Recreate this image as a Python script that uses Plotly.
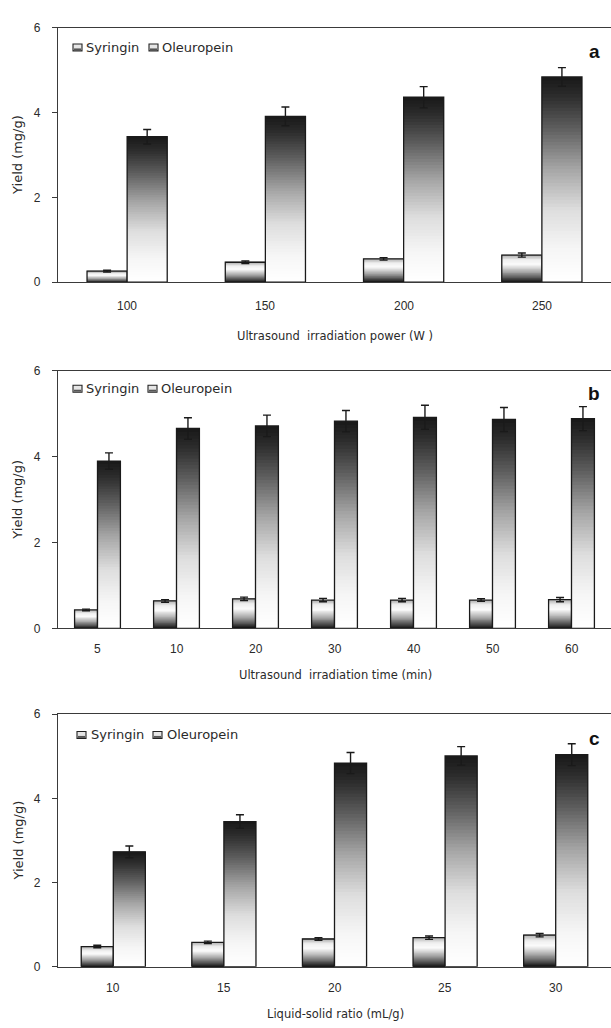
import plotly.graph_objects as go
from plotly.colors import sample_colorscale

# ---- data -------------------------------------------------------------
power_labels = ["100", "150", "200", "250"]
power_syringin = [0.26, 0.47, 0.55, 0.64]
power_syringin_err = [0.02, 0.03, 0.03, 0.05]
power_oleuropein = [3.43, 3.91, 4.36, 4.84]
power_oleuropein_err = [0.17, 0.22, 0.25, 0.22]

time_labels = ["5", "10", "20", "30", "40", "50", "60"]
time_syringin = [0.43, 0.64, 0.69, 0.66, 0.66, 0.66, 0.67]
time_syringin_err = [0.02, 0.03, 0.04, 0.04, 0.04, 0.03, 0.05]
time_oleuropein = [3.90, 4.66, 4.72, 4.83, 4.92, 4.87, 4.89]
time_oleuropein_err = [0.19, 0.25, 0.25, 0.25, 0.28, 0.28, 0.28]

ratio_labels = ["10", "15", "20", "25", "30"]
ratio_syringin = [0.48, 0.58, 0.66, 0.69, 0.75]
ratio_syringin_err = [0.03, 0.03, 0.03, 0.04, 0.04]
ratio_oleuropein = [2.73, 3.45, 4.84, 5.01, 5.04]
ratio_oleuropein_err = [0.14, 0.16, 0.25, 0.22, 0.26]

y_ticks = [0, 2, 4, 6]

# ---- figure geometry (pixels) ----------------------------------------
W, H = 611, 1028
AXIS_LEFT = 58
LINE = "#3a3a3a"
TEXT = "#2a2a2a"
FONT = "Liberation Sans, Arial, sans-serif"
WIDE_FONT = "DejaVu Sans, Verdana, sans-serif"


def fx(p):
    return p / W


def fy(p):
    return 1 - p / H


# vertical gradient colour scales (0 = bar bottom, 1 = bar top)
SYR_SCALE = [[0.0, "#050505"], [0.12, "#3a3a3a"], [0.40, "#a8a8a8"],
             [0.68, "#fbfbfb"], [0.85, "#eeeeee"], [1.0, "#b4b4b4"]]
OLE_SCALE = [[0.0, "#ffffff"], [0.15, "#f7f7f7"], [0.35, "#dedede"],
             [0.55, "#a6a6a6"], [0.75, "#5e5e5e"], [0.9, "#2e2e2e"],
             [1.0, "#181818"]]
N_SLICES = 60

panels = [
    dict(labels=power_labels, syr=power_syringin, syr_e=power_syringin_err,
         ole=power_oleuropein, ole_e=power_oleuropein_err,
         top=21, bottom=279, tick_y=303, title_y=334, letter="a", letter_y=45,
         legend_y=41, legend_x=(73, 84, 149, 160),
         title="Ultrasound  irradiation power (W )"),
    dict(labels=time_labels, syr=time_syringin, syr_e=time_syringin_err,
         ole=time_oleuropein, ole_e=time_oleuropein_err,
         top=369, bottom=630, tick_y=651, title_y=677, letter="b", letter_y=392,
         legend_y=387, legend_x=(73, 84, 148, 159),
         title="Ultrasound  irradiation time (min)"),
    dict(labels=ratio_labels, syr=ratio_syringin, syr_e=ratio_syringin_err,
         ole=ratio_oleuropein, ole_e=ratio_oleuropein_err,
         top=717, bottom=973, tick_y=995, title_y=1021, letter="c", letter_y=742,
         legend_y=738, legend_x=(77, 89, 153, 165),
         title="Liquid-solid ratio (mL/g)"),
]

fig = go.Figure()
annotations = []
shapes = []


def gradient_bar(cats, vals, errs, group, scale, xa, ya):
    """A bar series filled with a vertical gradient, built from thin stacked slices.

    Each slice reaches two slice-heights up so the next one covers its upper
    edge; this hides anti-aliasing seams between neighbouring slices."""
    colors = sample_colorscale(scale, [(k + 0.5) / N_SLICES for k in range(N_SLICES)])
    for k, col in enumerate(colors):
        bases = [v * k / N_SLICES for v in vals]
        heights = [min(2 * v / N_SLICES, v - b) for v, b in zip(vals, bases)]
        fig.add_trace(go.Bar(
            x=cats, y=heights, base=bases,
            offsetgroup=group, marker=dict(color=col, line=dict(width=0)),
            showlegend=False, hoverinfo="skip", xaxis=xa, yaxis=ya))
    fig.add_trace(go.Bar(
        x=cats, y=vals, offsetgroup=group,
        marker=dict(color="rgba(0,0,0,0)", line=dict(color="#1a1a1a", width=1.3)),
        error_y=dict(type="data", array=errs, visible=True, color="#1a1a1a",
                     thickness=1.4, width=4),
        showlegend=False, xaxis=xa, yaxis=ya))


for i, p in enumerate(panels):
    sfx = "" if i == 0 else str(i + 1)
    xa, ya = "x" + sfx, "y" + sfx
    gradient_bar(p["labels"], p["syr"], p["syr_e"], "syr", SYR_SCALE, xa, ya)
    gradient_bar(p["labels"], p["ole"], p["ole_e"], "ole", OLE_SCALE, xa, ya)

    n = len(p["labels"])
    fig.update_layout(**{
        "xaxis" + sfx: dict(
            domain=[fx(AXIS_LEFT), 1], anchor=ya, type="category",
            range=[-0.5, n - 0.5], showline=True, linecolor=LINE, linewidth=1.3,
            mirror=True, ticks="", showgrid=False, zeroline=False,
            showticklabels=False),
        "yaxis" + sfx: dict(
            domain=[fy(p["bottom"]), fy(p["top"])], anchor=xa, range=[0, 6],
            tickvals=y_ticks, ticktext=[str(t) for t in y_ticks],
            showline=True, linecolor=LINE, linewidth=1.3, ticks="outside",
            ticklen=5, tickcolor=LINE, tickwidth=1.2, showgrid=False,
            zeroline=False, ticklabelstandoff=9,
            tickfont=dict(family=FONT, size=12, color=TEXT)),
    })

    # category labels under each group (category axes use the serial index)
    for j, lab in enumerate(p["labels"]):
        annotations.append(dict(
            x=j, y=fy(p["tick_y"]), xref=xa, yref="paper", text=lab,
            showarrow=False, font=dict(family=FONT, size=12, color=TEXT),
            xanchor="center", yanchor="middle"))

    # axis titles
    annotations.append(dict(
        x=fx(335), y=fy(p["title_y"]), xref="paper", yref="paper",
        text=p["title"], showarrow=False,
        font=dict(family=WIDE_FONT, size=11.5, color=TEXT),
        xanchor="center", yanchor="middle"))
    annotations.append(dict(
        x=fx(18), y=fy((p["top"] + p["bottom"]) / 2), xref="paper", yref="paper",
        text="Yield (mg/g)", textangle=-90, showarrow=False,
        font=dict(family=WIDE_FONT, size=13, color=TEXT),
        xanchor="center", yanchor="middle"))

    # panel letter
    annotations.append(dict(
        x=fx(594), y=fy(p["letter_y"]), xref="paper", yref="paper",
        text="<b>%s</b>" % p["letter"], showarrow=False,
        font=dict(family=FONT, size=19, color="#111111"),
        xanchor="center", yanchor="middle"))

    # legend: small gradient boxes with labels
    lx1, tx1, lx2, tx2 = p["legend_x"]
    ly = p["legend_y"]
    for bx, tx, name in ((lx1, tx1, "Syringin"), (lx2, tx2, "Oleuropein")):
        shapes.append(dict(type="rect", xref="paper", yref="paper",
                           x0=fx(bx), x1=fx(bx + 9), y0=fy(ly + 3.5), y1=fy(ly - 3.5),
                           fillcolor="#e6e6e6", line=dict(color="#222222", width=1.1)))
        shapes.append(dict(type="rect", xref="paper", yref="paper",
                           x0=fx(bx + 1), x1=fx(bx + 8), y0=fy(ly + 3), y1=fy(ly + 1),
                           fillcolor="#555555", line=dict(width=0)))
        annotations.append(dict(
            x=fx(tx), y=fy(ly), xref="paper", yref="paper", text=name,
            showarrow=False, font=dict(family=WIDE_FONT, size=13, color=TEXT),
            xanchor="left", yanchor="middle"))

fig.update_layout(
    width=W, height=H, margin=dict(l=0, r=0, t=0, b=0),
    paper_bgcolor="white", plot_bgcolor="white",
    barmode="group", bargap=0.42, bargroupgap=0,
    showlegend=False, annotations=annotations, shapes=shapes,
)

fig.write_html("out.html")
